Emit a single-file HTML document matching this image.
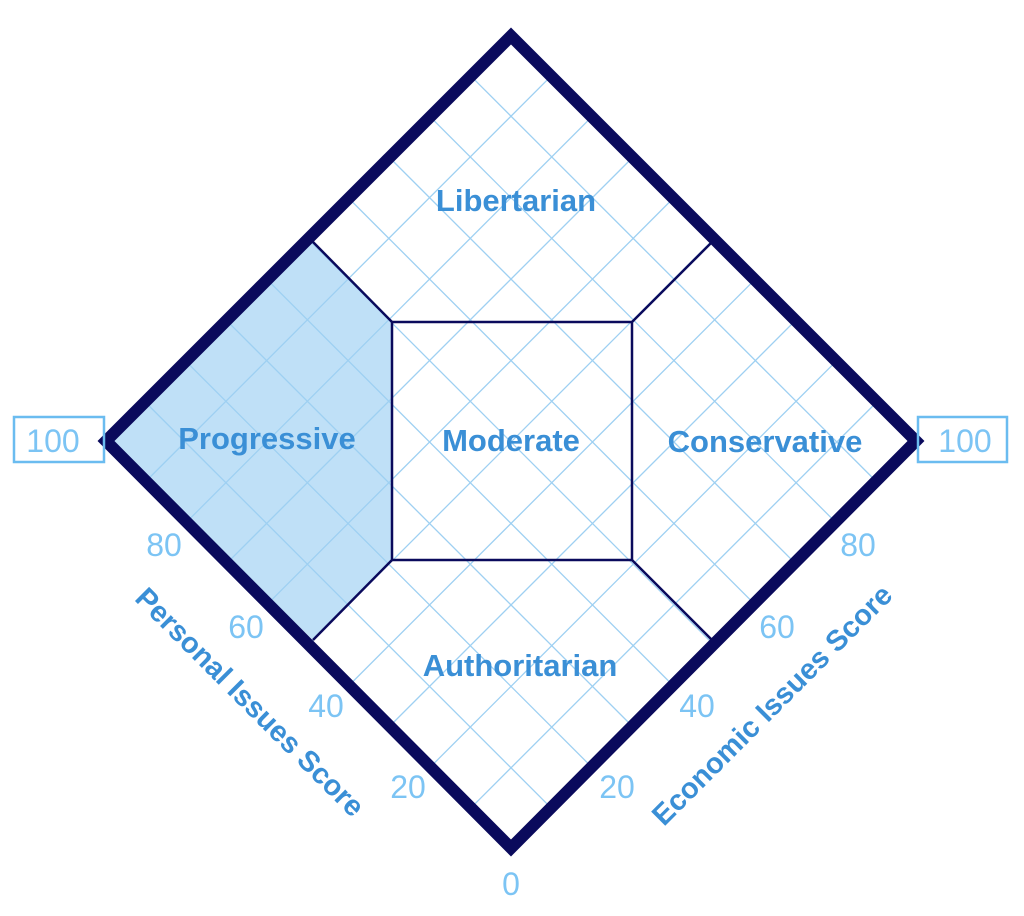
<!DOCTYPE html>
<html><head><meta charset="utf-8"><style>
html,body{margin:0;padding:0;background:#fff;}
svg{display:block;}
text{font-family:"Liberation Sans",sans-serif;}
</style></head><body>
<svg width="1024" height="916" viewBox="0 0 1024 916" xmlns="http://www.w3.org/2000/svg">
<polygon points="313,242 392,322 392,560 313,640 106,441" fill="#bfe0f7"/>
<g transform="translate(511,442) rotate(45)" stroke="#9ed0f2" stroke-width="1.3">
<line x1="-230.4" y1="-288" x2="-230.4" y2="288"/>
<line x1="-172.8" y1="-288" x2="-172.8" y2="288"/>
<line x1="-115.2" y1="-288" x2="-115.2" y2="288"/>
<line x1="-57.6" y1="-288" x2="-57.6" y2="288"/>
<line x1="0" y1="-288" x2="0" y2="288"/>
<line x1="57.6" y1="-288" x2="57.6" y2="288"/>
<line x1="115.2" y1="-288" x2="115.2" y2="288"/>
<line x1="172.8" y1="-288" x2="172.8" y2="288"/>
<line x1="230.4" y1="-288" x2="230.4" y2="288"/>
<line y1="-230.4" x1="-288" y2="-230.4" x2="288"/>
<line y1="-172.8" x1="-288" y2="-172.8" x2="288"/>
<line y1="-115.2" x1="-288" y2="-115.2" x2="288"/>
<line y1="-57.6" x1="-288" y2="-57.6" x2="288"/>
<line y1="0" x1="-288" y2="0" x2="288"/>
<line y1="57.6" x1="-288" y2="57.6" x2="288"/>
<line y1="115.2" x1="-288" y2="115.2" x2="288"/>
<line y1="172.8" x1="-288" y2="172.8" x2="288"/>
<line y1="230.4" x1="-288" y2="230.4" x2="288"/>
</g>
<g stroke="#0a0a5c" stroke-width="2.5" fill="none">
<rect x="392" y="322" width="240" height="238"/>
<line x1="392" y1="322" x2="313" y2="242"/>
<line x1="632" y1="322" x2="712" y2="242"/>
<line x1="632" y1="560" x2="712" y2="640"/>
<line x1="392" y1="560" x2="313" y2="640"/>
</g>
<polygon points="511,36 916,441 511,848 106,441" fill="none" stroke="#0a0a5c" stroke-width="12" stroke-linejoin="miter"/>
<g fill="#3a8fd6" font-size="31" font-weight="bold" text-anchor="middle">
<text x="516" y="211">Libertarian</text>
<text x="267" y="449">Progressive</text>
<text x="511" y="451">Moderate</text>
<text x="765" y="452">Conservative</text>
<text x="520" y="676">Authoritarian</text>
</g>
<g fill="none" stroke="#6bbcf0" stroke-width="2.5">
<rect x="14" y="417" width="90" height="45"/>
<rect x="918" y="417" width="89" height="45"/>
</g>
<g fill="#7cc4f4" font-size="32" text-anchor="middle">
<text x="53" y="452">100</text>
<text x="965" y="452">100</text>
<text x="164" y="556">80</text>
<text x="246" y="638">60</text>
<text x="326" y="717">40</text>
<text x="408" y="798">20</text>
<text x="511" y="895">0</text>
<text x="858" y="556">80</text>
<text x="777" y="638">60</text>
<text x="697" y="717">40</text>
<text x="617" y="798">20</text>
</g>
<g fill="#3a8fd6" font-size="29" font-weight="bold" text-anchor="middle">
<text transform="translate(243,709) rotate(45)">Personal Issues Score</text>
<text transform="translate(779,712) rotate(-45)">Economic Issues Score</text>
</g>
</svg>
</body></html>
